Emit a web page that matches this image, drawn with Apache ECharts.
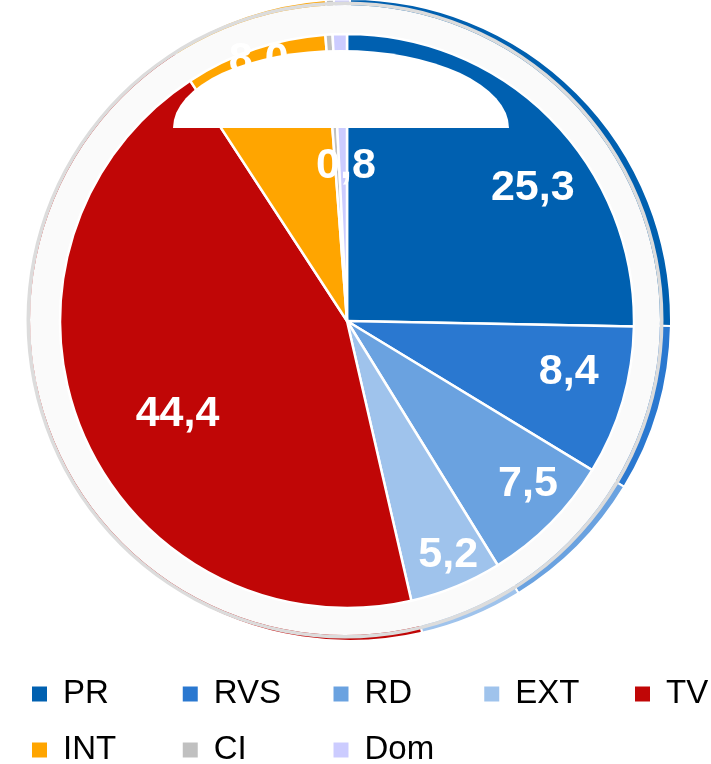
<!DOCTYPE html>
<html>
<head>
<meta charset="utf-8">
<title>Pie</title>
<script src="https://cdn.jsdelivr.net/npm/echarts@6/dist/echarts.min.js"></script>
<style>
  html, body { margin: 0; padding: 0; background: #fff; }
  #chart { width: 711px; height: 764px; }
</style>
</head>
<body>
<div id="chart"></div>
<script>
// data
const categories = ['PR', 'RVS', 'RD', 'EXT', 'TV', 'INT', 'CI', 'Dom'];
const shares = [25.3, 8.4, 7.5, 5.2, 44.4, 8.0, 0.4, 0.8];
const legendRow1 = ['PR', 'RVS', 'RD', 'EXT', 'TV'];
const legendRow2 = ['INT', 'CI', 'Dom'];

const colors = ['#0060b0', '#2a78d0', '#6aa2e0', '#9fc3ec', '#c00606', '#ffa500', '#c0c0c0', '#ccccff'];
const FONT = 'Liberation Sans, Arial, sans-serif';
const CENTER = [347, 321];

// which label goes on which radius (excel "best fit" style placement)
const labelRings = [
    { r: 232, names: ['PR', 'RVS'] },
    { r: 245, names: ['RD', 'EXT'] },
    { r: 192, names: ['TV'] },
    { r: 272, names: ['INT'] },
    { r: 156, names: ['Dom'] }
];
// small label nudges (px)
const labelNudge = { PR: [18, 32], RVS: [-4, -14], RD: [5, -12], EXT: [7, 5], TV: [10, 17], Dom: [3, 4] };

const pieData = categories.map((c, i) => ({ name: c, value: shares[i] }));
const fmt = p => p.value.toFixed(1).replace('.', ',');

const series = [
    // main pie
    {
        type: 'pie', z: 3,
        center: CENTER, radius: 287,
        startAngle: 90,
        data: pieData,
        label: { show: false },
        labelLine: { show: false },
        itemStyle: { borderColor: '#fff', borderWidth: 2.5 },
        emphasis: { scale: false }
    },
    // colored rim peeking behind the frame
    {
        type: 'pie', z: 1, silent: true,
        center: [350, 320], radius: 321,
        startAngle: 90,
        data: pieData,
        label: { show: false },
        labelLine: { show: false },
        itemStyle: { borderColor: '#fff', borderWidth: 2 },
        emphasis: { disabled: true }
    },
    // light frame ring
    {
        type: 'pie', z: 2, silent: true, legendHoverLink: false,
        center: [345, 320], radius: [284, 315],
        data: [{ value: 1, name: '_frame' }],
        label: { show: false }, labelLine: { show: false },
        itemStyle: { color: '#fafafa' },
        emphasis: { disabled: true }
    },
    {
        type: 'pie', z: 2, silent: true, legendHoverLink: false,
        center: [345, 320], radius: [315, 318.5],
        data: [{ value: 1, name: '_edge' }],
        label: { show: false }, labelLine: { show: false },
        itemStyle: { color: '#dcdcdc' },
        emphasis: { disabled: true }
    }
];

// transparent rings only used to place the value labels
labelRings.forEach(ring => {
    series.push({
        type: 'pie', z: 4, silent: true, legendHoverLink: false,
        center: CENTER, radius: [ring.r - 40, ring.r + 40],
        startAngle: 90,
        avoidLabelOverlap: false,
        data: pieData.map(d => ({
            name: d.name, value: d.value,
            label: { show: ring.names.indexOf(d.name) >= 0 }
        })),
        itemStyle: { color: 'rgba(0,0,0,0)', borderWidth: 0 },
        label: {
            position: 'inside',
            formatter: fmt,
            color: '#fff',
            fontFamily: FONT,
            fontWeight: 'bold',
            fontSize: 43
        },
        labelLayout: function (params) {
            const n = labelNudge[categories[params.dataIndex]];
            return n ? { dx: n[0], dy: n[1] } : {};
        },
        labelLine: { show: false },
        emphasis: { disabled: true }
    });
});

// one legend per entry so the columns line up like the original
const legends = [];
[legendRow1, legendRow2].forEach((row, r) => {
    row.forEach((name, i) => {
        legends.push({
            data: [name],
            left: 30 + 150.75 * i,
            top: r === 0 ? 676 : 732,
            padding: 0,
            icon: 'rect',
            itemWidth: 17, itemHeight: 17,
            textStyle: {
                fontFamily: FONT, fontSize: 33, color: '#000',
                padding: [0, 0, 0, 10], lineHeight: 36
            }
        });
    });
});

const chart = echarts.init(document.getElementById('chart'));
chart.setOption({
    animation: false,
    color: colors,
    legend: legends,
    series: series,
    graphic: [{
        // white patch over the top of the pie
        type: 'sector', z: 100, silent: true,
        x: 341, y: 128,
        scaleY: 78 / 168,
        shape: { cx: 0, cy: 0, r: 168, r0: 0, startAngle: Math.PI, endAngle: Math.PI * 2 },
        style: { fill: '#fff' }
    }]
});
window.addEventListener('resize', chart.resize);
</script>
</body>
</html>
